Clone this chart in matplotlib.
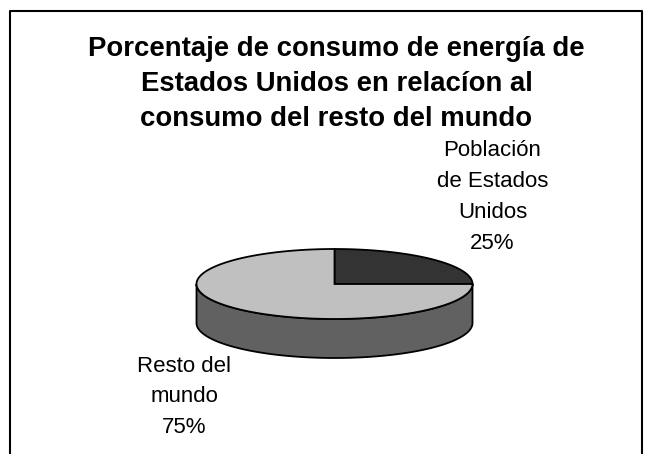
import matplotlib
matplotlib.use('Agg')
import matplotlib.pyplot as plt
import numpy as np

etiquetas = ['Población\nde Estados\nUnidos\n25%', 'Resto del\nmundo\n75%']
valores = [25, 75]
titulo = ('Porcentaje de consumo de energía de\n'
          'Estados Unidos en relacíon al\n'
          'consumo del resto del mundo')

plt.rcParams['font.family'] = ['Liberation Sans', 'DejaVu Sans']

fig = plt.figure(figsize=(6.52, 4.54), dpi=100)
ax = fig.add_axes([0, 0, 1, 1])
ax.set_xlim(0, 652)
ax.set_ylim(454, 0)
ax.axis('off')

# marco, abierto por abajo
ax.plot([9.5, 9.5, 641.5, 641.5], [454, 11, 11, 454], color='black', lw=1.5)

cx, cy = 334.5, 284
rx, ry = 138, 35
prof = 39

# cara lateral
t = np.linspace(0, np.pi, 200)
xs = cx + rx * np.cos(t)
ys = cy + ry * np.sin(t)
ax.fill(np.r_[xs, xs[::-1]], np.r_[ys, ys[::-1] + prof],
        facecolor='#616161', edgecolor='black', lw=1.3)

# porciones, desde las 12 en sentido horario
colores = ['#333333', '#c0c0c0']
ang = np.pi / 2
for v, c in zip(valores, colores):
    fin = ang - 2 * np.pi * v / sum(valores)
    t = np.linspace(ang, fin, 200)
    ax.fill(np.r_[cx, cx + rx * np.cos(t)], np.r_[cy, cy - ry * np.sin(t)],
            facecolor=c, edgecolor='black', lw=1.3, joinstyle='miter')
    ang = fin

ax.text(336.5, 84, titulo, ha='center', va='center', fontsize=19.85,
        fontweight='bold', linespacing=1.44)
ax.text(492.5, 197, etiquetas[0], ha='center', va='center', fontsize=16,
        linespacing=1.62)
ax.text(184, 397, etiquetas[1], ha='center', va='center', fontsize=16,
        linespacing=1.62)

fig.savefig('out.png', dpi=100)
